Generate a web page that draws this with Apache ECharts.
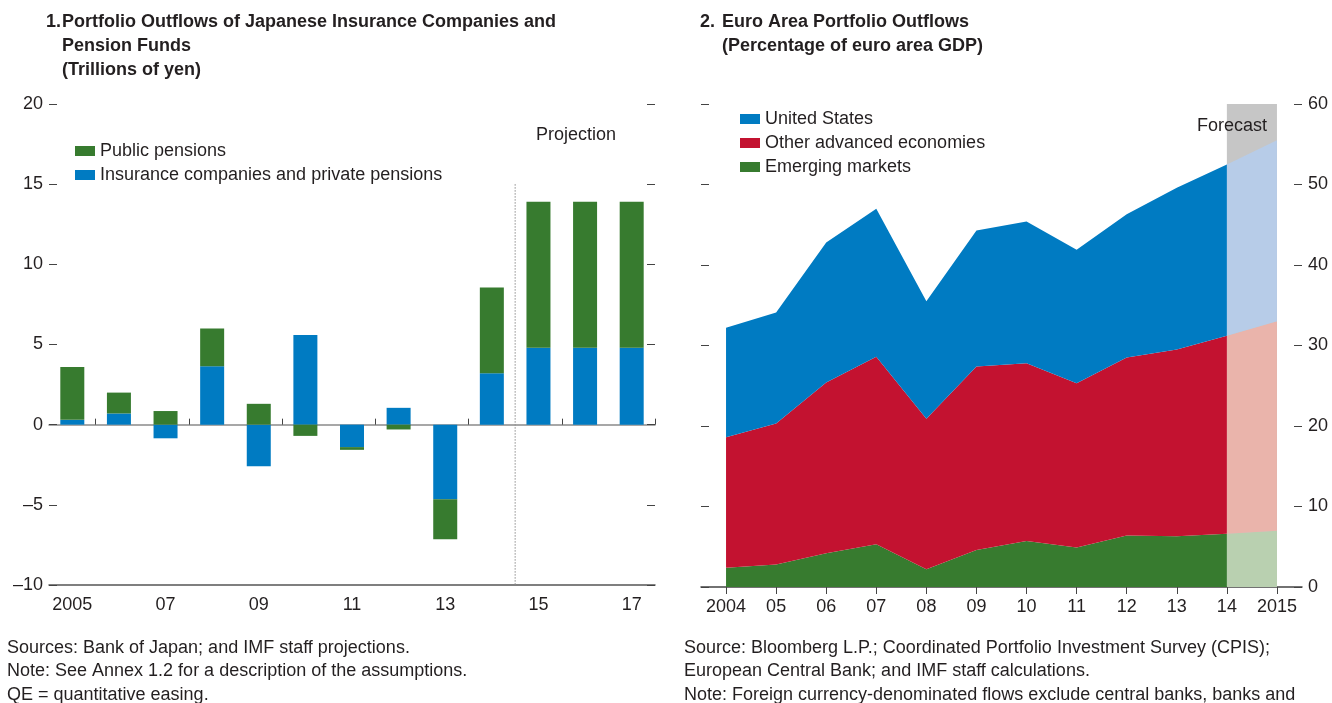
<!DOCTYPE html>
<html><head><meta charset="utf-8">
<script src="https://cdn.jsdelivr.net/npm/echarts@6/dist/echarts.min.js"></script>
<style>html,body{margin:0;padding:0;background:#fff}#c{width:1332px;height:703px}</style>
</head><body><div id="c"></div>
<script>
// ---- Panel 1 data (trillions of yen)
const jpYears = ['2005','06','07','08','09','10','11','12','13','14','15','16','17'];
const insurancePrivate = [0.3, 0.7, -0.85, 3.65, -2.6, 5.6, -1.4, 1.05, -4.65, 3.2, 4.8, 4.8, 4.8];
const publicPensions   = [3.3, 1.3, 0.85, 2.35, 1.3, -0.7, -0.17, -0.3, -2.5, 5.35, 9.1, 9.1, 9.1];
const jpTicks = [-10, -5, 0, 5, 10, 15, 20];
const projectionStart = 9.5; // boundary between 2014 and 2015 (category index)

// ---- Panel 2 data (percent of euro area GDP)
const euYears = ['2004','05','06','07','08','09','10','11','12','13','14','2015'];
const emerging      = [2.4, 2.8, 4.2, 5.3, 2.2, 4.6, 5.7, 4.9, 6.4, 6.3, 6.6, 7.0];
const otherAdvanced = [16.2, 17.5, 21.2, 23.3, 18.7, 22.8, 22.1, 20.4, 22.1, 23.2, 24.6, 26.0];
const unitedStates  = [13.6, 13.8, 17.4, 18.4, 14.6, 16.9, 17.6, 16.6, 17.8, 20.1, 21.3, 22.5];
const forecastFrom = 10; // index of '14'

const FONT = '"Liberation Sans", Arial, sans-serif';
const TXT = '#231f20';
const GREEN = '#377b2f', BLUE = '#007bc2', RED = '#c31230';
const LGREEN = '#b9d0b0', LBLUE = '#b7cce8', LRED = '#eab4ab';
const FS = 18;

const dash = v => (v < 0 ? '\u2013' + Math.abs(v) : String(v));
const actual = arr => arr.map((v, i) => (i <= forecastFrom ? v : '-'));
const fcst = arr => arr.map((v, i) => (i >= forecastFrom ? v : '-'));

const chart = echarts.init(document.getElementById('c'), null, {renderer: 'canvas'});

const areaSeries = (name, data, color, stack, z) => ({
  name, type: 'line', xAxisIndex: 3, yAxisIndex: 2, stack, data,
  symbol: 'none', smooth: false, z,
  lineStyle: {width: 0}, areaStyle: {color, opacity: 1}, itemStyle: {color},
  emphasis: {disabled: true}
});
const titleStyle = {fontFamily: FONT, fontSize: 18, fontWeight: 'bold', color: TXT, lineHeight: 24};
const noteStyle = {fontFamily: FONT, fontSize: 18, fontWeight: 'normal', color: TXT, lineHeight: 23.5};
const yTick = (pos, labelShow, min, max, interval, grid) => ({
  gridIndex: grid, type: 'value', min, max, interval, position: pos,
  axisLine: {show: false, onZero: false}, splitLine: {show: false},
  axisTick: {show: true, inside: true, length: 8, lineStyle: {color: '#444'}},
  axisLabel: {show: labelShow, margin: 6, fontSize: FS, color: TXT, fontFamily: FONT, formatter: dash}
});

chart.setOption({
  animation: false,
  textStyle: {fontFamily: FONT, color: TXT},
  title: [
    {text: '1.', left: 46, top: 10, padding: 0, textStyle: titleStyle},
    {text: 'Portfolio Outflows of Japanese Insurance Companies and\nPension Funds\n(Trillions of yen)', left: 62, top: 10, padding: 0, textStyle: titleStyle},
    {text: '2.', left: 700, top: 10, padding: 0, textStyle: titleStyle},
    {text: 'Euro Area Portfolio Outflows\n(Percentage of euro area GDP)', left: 722, top: 10, padding: 0, textStyle: titleStyle},
    {text: 'Sources: Bank of Japan; and IMF staff projections.\nNote: See Annex 1.2 for a description of the assumptions.\nQE = quantitative easing.',
     left: 7, top: 636, padding: 0, textStyle: noteStyle},
    {text: 'Source: Bloomberg L.P.; Coordinated Portfolio Investment Survey (CPIS);\nEuropean Central Bank; and IMF staff calculations.\nNote: Foreign currency-denominated flows exclude central banks, banks and',
     left: 684, top: 636, padding: 0, textStyle: noteStyle}
  ],
  legend: [
    {left: 75, top: 142, padding: 0, orient: 'vertical', itemWidth: 20, itemHeight: 10, itemGap: 6,
     icon: 'rect', data: ['Public pensions', 'Insurance companies and private pensions'],
     textStyle: {fontFamily: FONT, fontSize: FS, color: TXT}},
    {left: 740, top: 110, padding: 0, orient: 'vertical', itemWidth: 20, itemHeight: 10, itemGap: 6,
     icon: 'rect', data: ['United States', 'Other advanced economies', 'Emerging markets'],
     textStyle: {fontFamily: FONT, fontSize: FS, color: TXT}}
  ],
  graphic: [
    {type: 'text', left: 536, top: 126, style: {text: 'Projection', font: FS + 'px ' + FONT, fill: TXT}},
    {type: 'text', left: 1197, top: 117, z: 100, style: {text: 'Forecast', font: FS + 'px ' + FONT, fill: TXT}}
  ],
  grid: [
    {left: 49, right: 677, top: 104, bottom: 118},
    {left: 701, right: 30, top: 104, bottom: 116}
  ],
  xAxis: [
    {gridIndex: 0, type: 'category', data: jpYears, position: 'bottom',
     axisLine: {onZero: false, lineStyle: {color: '#555', width: 1.5}},
     axisTick: {show: false},
     axisLabel: {interval: 1, margin: 11, fontSize: FS, color: TXT, fontFamily: FONT}},
    {gridIndex: 0, type: 'category', data: jpYears, position: 'bottom',
     axisLine: {onZero: true, lineStyle: {color: '#8a8a8a', width: 1.5}},
     axisTick: {show: true, inside: true, length: 6, interval: (i) => i % 2 === 1 && i < jpYears.length - 1, lineStyle: {color: '#444'}},
     axisLabel: {show: false}},
    {gridIndex: 0, type: 'value', min: -0.5, max: jpYears.length - 0.5, show: false, axisLine: {onZero: false}},
    {gridIndex: 1, type: 'category', data: euYears, boundaryGap: true,
     axisLine: {onZero: false, lineStyle: {color: '#444', width: 1.5}},
     axisTick: {show: true, alignWithLabel: true, length: 7, lineStyle: {color: '#444'}},
     axisLabel: {interval: 0, margin: 11, fontSize: FS, color: TXT, fontFamily: FONT}}
  ],
  yAxis: [
    yTick('left', true, jpTicks[0], jpTicks[jpTicks.length - 1], 5, 0),
    yTick('right', false, jpTicks[0], jpTicks[jpTicks.length - 1], 5, 0),
    yTick('right', true, 0, 60, 10, 1),
    yTick('left', false, 0, 60, 10, 1)
  ],
  series: [
    {name: 'Insurance companies and private pensions', type: 'bar', xAxisIndex: 0, yAxisIndex: 0,
     stack: 'jp', data: insurancePrivate, barWidth: 24, itemStyle: {color: BLUE}, z: 3},
    {name: 'Public pensions', type: 'bar', xAxisIndex: 0, yAxisIndex: 0,
     stack: 'jp', data: publicPensions, barWidth: 24, itemStyle: {color: GREEN}, z: 3},
    {name: 'projLine', type: 'line', xAxisIndex: 2, yAxisIndex: 0, symbol: 'none', z: 4,
     data: [[projectionStart, 15], [projectionStart, -10]],
     lineStyle: {color: '#8c8c8c', width: 1, type: [1.5, 1.5]}},
    {name: 'fcBg', type: 'line', xAxisIndex: 3, yAxisIndex: 2, data: [], z: 1,
     markArea: {silent: true, itemStyle: {color: '#c6c6c6'},
       data: [[{xAxis: euYears[forecastFrom], yAxis: 0}, {xAxis: euYears[euYears.length - 1], yAxis: 60}]]}},
    areaSeries('Emerging markets', actual(emerging), GREEN, 'act', 3),
    areaSeries('Other advanced economies', actual(otherAdvanced), RED, 'act', 3),
    areaSeries('United States', actual(unitedStates), BLUE, 'act', 3),
    areaSeries('EM forecast', fcst(emerging), LGREEN, 'fc', 2),
    areaSeries('OAE forecast', fcst(otherAdvanced), LRED, 'fc', 2),
    areaSeries('US forecast', fcst(unitedStates), LBLUE, 'fc', 2)
  ]
});
</script></body></html>
